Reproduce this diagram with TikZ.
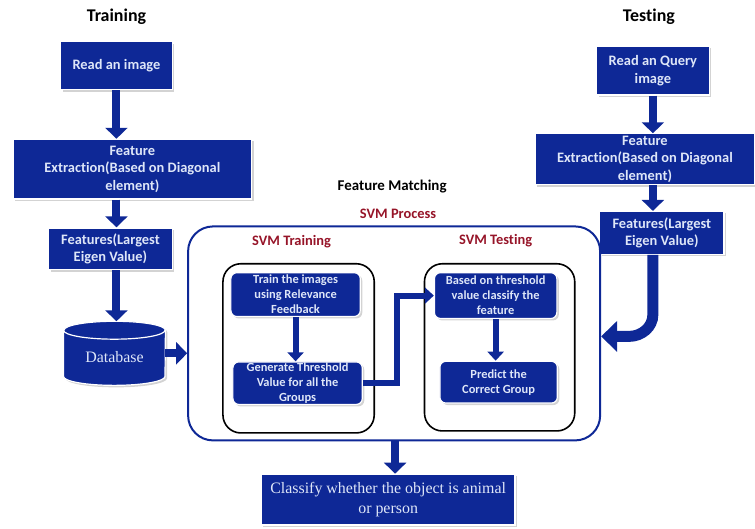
\documentclass[tikz,border=0pt]{standalone}
\usepackage{fontspec}
\setmainfont{Carlito}[Ligatures=NoCommon]
\newfontfamily\dbfont{Liberation Serif}
\usetikzlibrary{arrows.meta,positioning,shadows,calc}
\definecolor{boxblue}{RGB}{14,40,150}
\definecolor{boxtext}{RGB}{222,230,248}
\definecolor{svmred}{RGB}{150,20,40}

\begin{document}
\begin{tikzpicture}[
		x=1pt, y=-1pt,
		blk/.style = {rectangle, fill=boxblue, draw=white, line width=1.2pt,
			text=boxtext, font=\fontsize{14.5}{17.5}\selectfont\bfseries,
			align=center, inner sep=1pt,
			drop shadow={shadow xshift=2pt, shadow yshift=-2pt, opacity=0.35}},% big blue boxes
		sblk/.style = {blk, rounded corners=6pt,
			font=\fontsize{12.5}{15}\selectfont\bfseries},% boxes inside SVM
		ttl/.style = {font=\fontsize{18}{20}\selectfont\bfseries},
		svmlbl/.style = {text=svmred, font=\fontsize{14.5}{16}\selectfont\bfseries},
		grp/.style = {draw=black, line width=1.6pt, rounded corners=18pt},
		fat/.style = {draw=boxblue, line width=8pt,
			-{Triangle[width=22pt,length=11pt]}},
		thin/.style = {draw=boxblue, line width=6pt,
			-{Triangle[width=16pt,length=9pt]}},
		]
		% titles
		\node[ttl] (trtitle) at (117,17) {Training};
		\node[ttl] (tetitle) at (652,17) {Testing};
		\node[font=\fontsize{15}{17}\selectfont\bfseries] (match) at (394,187) {Feature Matching};
		\node[svmlbl] (proc) at (400,215) {SVM Process};
		
		% training column
		\node[blk, minimum width=112pt, minimum height=48pt] (read1) at (117,66) {Read an image};
		\node[blk, minimum width=240pt, minimum height=60pt] (fext1) at (133,170)
		{Feature\\Extraction(Based on Diagonal\\element)};
		\node[blk, minimum width=124pt, minimum height=42pt] (feat1) at (111,250)
		{Features(Largest\\Eigen Value)};
		% database drum
		\node[minimum width=102pt, minimum height=64pt, inner sep=0pt] (db) at (115,355) {};
		\draw[fill=boxblue, draw=white, line width=1.2pt,
		drop shadow={shadow xshift=2pt, shadow yshift=-2pt, opacity=0.35}]
		($(db.north west)+(0,9)$) -- ($(db.south west)+(0,-9)$)
		arc[start angle=180, end angle=360, x radius=51pt, y radius=9pt]
		-- ($(db.north east)+(0,9)$)
		arc[start angle=0, end angle=180, x radius=51pt, y radius=9pt] -- cycle;
		\draw[white, line width=1.2pt] ($(db.north west)+(0,9)$)
		arc[start angle=180, end angle=360, x radius=51pt, y radius=9pt];
		\node[text=boxtext, font=\dbfont\fontsize{16}{18}\selectfont] (dblbl) at ($(db)+(0,4)$) {Database};
		
		% testing column
		\node[blk, minimum width=113pt, minimum height=49pt] (read2) at (656,71)
		{Read an Query\\image};
		\node[blk, minimum width=220pt, minimum height=51pt] (fext2) at (648,160)
		{Feature\\Extraction(Based on Diagonal\\element)};
		\node[blk, minimum width=125pt, minimum height=43pt] (feat2) at (665,234)
		{Features(Largest\\Eigen Value)};
		
		% svm part
		\node[draw=boxblue, line width=2pt, rounded corners=25pt,
		minimum width=414pt, minimum height=215pt] (svm) at (396,335) {};
		\node[grp, minimum width=152pt, minimum height=170pt] (svmtr) at (300,350) {};
		\node[grp, minimum width=151pt, minimum height=168pt] (svmte) at (502,349) {};
		\node[svmlbl] (trlbl) at (293,243) {SVM Training};
		\node[svmlbl] (telbl) at (498,242) {SVM Testing};
		\node[sblk, minimum width=130pt, minimum height=44pt] (train) at (297,296)
		{Train the images\\using Relevance\\Feedback};
		\node[sblk, minimum width=130pt, minimum height=40pt] (gen) at (299,385)
		{Generate Threshold\\Value for all the\\Groups};
		\node[sblk, minimum width=123pt, minimum height=46pt] (based) at (498,297)
		{Based on threshold\\value classify the\\feature};
		\node[sblk, minimum width=118pt, minimum height=42pt] (pred) at (501,384)
		{Predict the\\Correct Group};
		
		\node[blk, minimum width=255pt, minimum height=51pt,
		font=\dbfont\fontsize{16}{20}\selectfont] (cls) at (390,502)
		{Classify whether the object is animal\\or person};
		
		% arrows
		\draw[fat] (read1.south) -- (read1.south |- fext1.north);
		\draw[fat] (read1 |- fext1.south) -- (read1 |- feat1.north);
		\draw[fat] (read1 |- feat1.south) -- (read1 |- db.north);
		\draw[fat] (db.east) -- (db.east -| svm.west);
		\draw[thin] (train.south) -- (train.south |- gen.north);
		\draw[thin] (based.south) -- (based.south |- pred.north);
		\draw[thin] (gen.east) -- ++(34,0) |- (based.west);
		\draw[fat] (read2.south) -- (read2.south |- fext2.north);
		\draw[fat] (read2 |- fext2.south) -- (read2 |- feat2.north);
		\coordinate (turn) at (656,316);
		\draw[draw=boxblue, line width=11pt, -{Triangle[width=30pt,length=16pt]}]
		(turn |- feat2.south) -- (turn) to[out=-90,in=0] ++(-24,22) -- (svm.east |- 0,338);
		\draw[fat] (svm.south -| 397,0) -- (cls.north -| 397,0);
		
		\useasboundingbox (0,0) rectangle (755,531);
	\end{tikzpicture}
\end{document}
